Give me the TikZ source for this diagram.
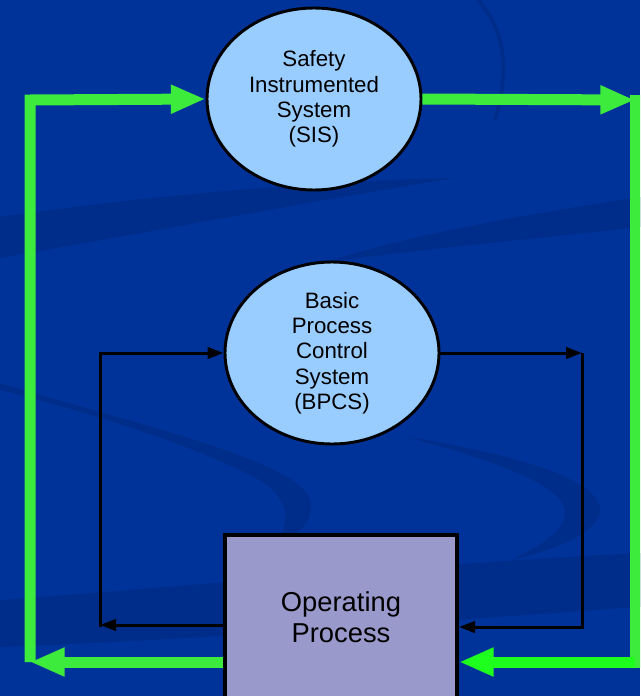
\documentclass[tikz,border=0pt]{standalone}
\usepackage{fontspec}
\setmainfont{Liberation Sans}
\usetikzlibrary{arrows.meta,shapes.geometric}

\definecolor{bgblue}{RGB}{0,51,153}
\definecolor{bgshade}{RGB}{0,45,138}
\definecolor{ctrlfill}{RGB}{153,204,255}
\definecolor{procfill}{RGB}{153,153,204}
\definecolor{safegreen}{RGB}{60,235,60}
\definecolor{safegreenb}{RGB}{30,255,30}

\tikzset{
  ctrlnode/.style={ellipse,draw,line width=2.2pt,fill=ctrlfill,minimum width=160.5pt,
    minimum height=136.5pt,inner sep=0pt,align=center,font=\fontsize{16.7}{19}\selectfont},
  procbox/.style={rectangle,draw,line width=3pt,fill=procfill,minimum width=174pt,
    minimum height=123.75pt,inner sep=0pt,align=center,font=\fontsize{20.5}{23.5}\selectfont},
  safeline/.style={draw=safegreen,line width=8.25pt,-{Triangle[length=26pt,width=20pt]}},
  ctrlline/.style={draw=black,line width=2.25pt,-{Triangle[length=12pt,width=8.5pt]}},
}

\begin{document}
\begin{tikzpicture}[x=0.75pt,y=-0.75pt]
  \useasboundingbox (0,0) rectangle (640,696);
  \clip (0,0) rectangle (640,696);
  \fill[bgblue] (0,0) rectangle (640,696);

  % faint swooshes in the backdrop
  \fill[bgshade] (0,217) .. controls (150,195) and (330,180) .. (455,178)
    .. controls (330,198) and (150,232) .. (0,258) -- cycle;
  \fill[bgshade] (640,197) -- (640,227) .. controls (540,238) and (420,250) .. (326,262)
    .. controls (420,232) and (540,212) .. (640,197) -- cycle;
  \fill[bgshade] (0,383) .. controls (120,420) and (300,460) .. (310,500)
    .. controls (315,520) and (300,535) .. (275,545)
    .. controls (292,520) and (290,495) .. (250,475)
    .. controls (180,440) and (80,410) .. (0,390) -- cycle;
  \fill[bgshade] (408,437) .. controls (520,455) and (600,480) .. (600,510)
    .. controls (600,530) and (560,550) .. (510,560)
    .. controls (555,540) and (575,520) .. (560,500)
    .. controls (540,475) and (470,455) .. (408,437) -- cycle;
  \fill[bgshade] (0,600) .. controls (200,585) and (450,562) .. (640,553) -- (640,607)
    .. controls (450,620) and (200,640) .. (0,647) -- cycle;
  \draw[bgshade,line width=3pt] (478,0) .. controls (505,30) and (510,70) .. (495,120);

  % the two control layers and the process
  \node[ctrlnode] (sis) at (314,99) {Safety\\Instrumented\\System\\(SIS)};
  \node[ctrlnode] (bpcs) at (332,353) {Basic\\Process\\Control\\System\\(BPCS)};
  \node[procbox] (process) at (341,617.5) {Operating\\Process};

  % corners of the loops
  \coordinate (lt) at (30,100);
  \coordinate (lb) at (30,662);
  \coordinate (rt) at (635,100);
  \coordinate (rb) at (635,662);
  \coordinate (ct) at (100,353);
  \coordinate (cb) at (100,625);
  \coordinate (dt) at (582,353);
  \coordinate (db) at (582,627);

  % BPCS loop
  \draw[ctrlline] (process.west |- cb) -- (cb);
  \draw[ctrlline,line cap=rect] (cb) -- (ct) -- (bpcs.west);
  \draw[ctrlline] (bpcs.east) -- (dt);
  \draw[ctrlline] (dt) -- (db) -- (process.east |- db);

  % SIS loop
  \draw[safeline] (process.west |- lb) -- (lb);
  \draw[safeline] (lb) -- (lt) -- (sis.west);
  \draw[safeline] (sis.east) -- (rt);
  \draw[safeline,-,line cap=rect] (rt) -- (rb);
  \draw[safeline,draw=safegreenb] (rb) -- (process.east |- rb);
\end{tikzpicture}
\end{document}
